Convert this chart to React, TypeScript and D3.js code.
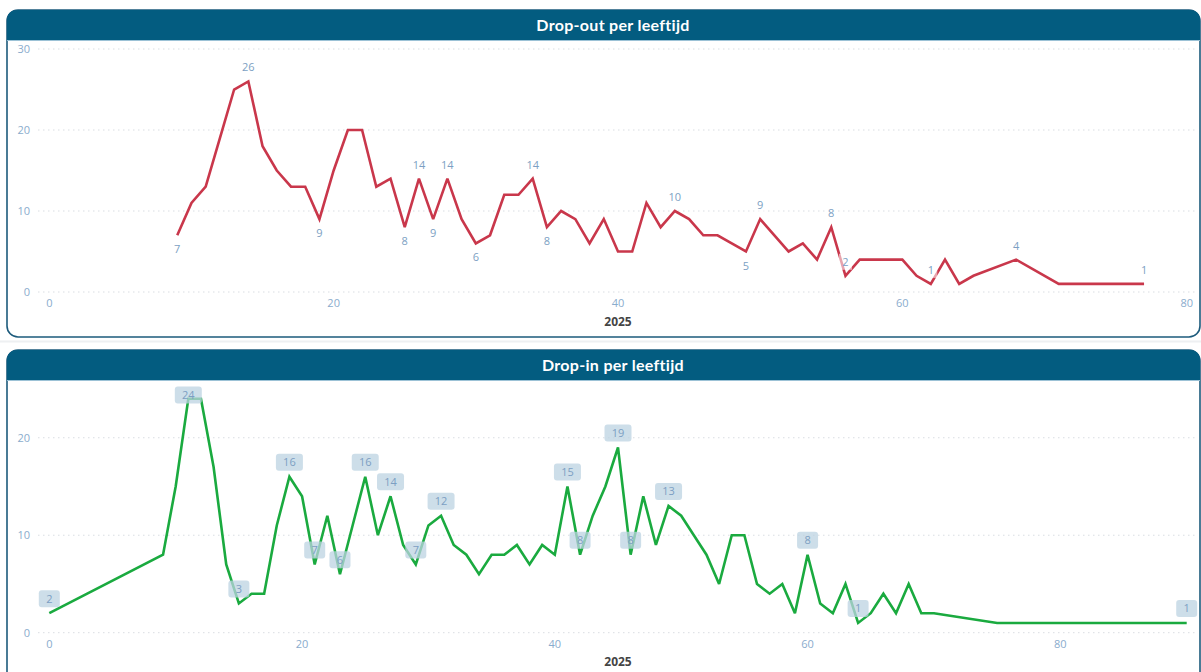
import React from "react";
import * as d3 from "d3";

// ---------- DATA ----------
const dropOutAges = [9,10,11,12,13,14,15,16,17,18,19,20,21,22,23,24,25,26,27,28,29,30,31,32,33,34,35,36,37,38,39,40,41,42,43,44,45,46,47,48,49,50,51,52,53,54,55,56,57,58,59,60,61,62,63,64,65,68,71,77];
const dropOutValues = [7,11,13,19,25,26,18,15,13,13,9,15,20,20,13,14,8,14,9,14,9,6,7,12,12,14,8,10,9,6,9,5,5,11,8,10,9,7,7,6,5,9,7,5,6,4,8,2,4,4,4,4,2,1,4,1,2,4,1,1];
// labelled ages and whether label is above (1) or below (-1)
const dropOutLabelAges = [9,14,19,25,26,27,28,30,34,35,44,49,50,55,56,62,68,77];
const dropOutLabelSide = [-1,1,-1,-1,1,-1,1,-1,1,-1,1,-1,1,1,1,1,1,1];

const dropInAges = [0,9,10,11,12,13,14,15,16,17,18,19,20,21,22,23,24,25,26,27,28,29,30,31,32,33,34,35,36,37,38,39,40,41,42,43,44,45,46,47,48,49,50,51,52,53,54,55,56,57,58,59,60,61,62,63,64,65,66,67,68,69,70,75,90];
const dropInValues = [2,8,15,24,24,17,7,3,4,4,11,16,14,7,12,6,11,16,10,14,9,7,11,12,9,8,6,8,8,9,7,9,8,15,8,12,15,19,8,14,9,13,12,10,8,5,10,10,5,4,5,2,8,3,2,5,1,2,4,2,5,2,2,1,1];
const dropInLabelAges = [0,11,15,19,21,23,25,27,29,31,41,42,45,46,49,60,64,90];

const topYTicks = [0, 10, 20, 30];
const topXTicks = [0, 20, 40, 60, 80];
const botYTicks = [0, 10, 20];
const botXTicks = [0, 20, 40, 60, 80];

const topTitle = "Drop-out per leeftijd";
const botTitle = "Drop-in per leeftijd";
const axisTitle = "2025";

// ---------- STYLE ----------
const HEADER = "#035c80";
const BORDER = "#1d5b7c";
const TICK = "#8aaccd";
const LABEL = "#7c9fc3";
const RED = "#c9374b";
const GREEN = "#1aaa3f";
const FONT = "'Segoe UI', 'Open Sans', 'Noto Sans', sans-serif";
const TITLE_FONT = "Lato, 'Open Sans', sans-serif";

function Panel({ y0, h, title }: { y0: number; h: number; title: string }) {
  const x0 = 7, x1 = 1200, r = 11;
  const path = `M${x0},${y0 + h} L${x0},${y0 + r} Q${x0},${y0} ${x0 + r},${y0} L${x1 - r},${y0} Q${x1},${y0} ${x1},${y0 + r} L${x1},${y0 + h}`;
  return (
    <g>
      <rect x={x0} y={y0} width={x1 - x0} height={h} rx={r} ry={r} fill="#fff" stroke={BORDER} strokeWidth={1.6} />
      <path d={`M${x0},${y0 + 30} L${x0},${y0 + r} Q${x0},${y0} ${x0 + r},${y0} L${x1 - r},${y0} Q${x1},${y0} ${x1},${y0 + r} L${x1},${y0 + 30} Z`} fill={HEADER} />
      <line x1={x0} x2={x1} y1={y0 + 30.5} y2={y0 + 30.5} stroke="#9cc2d6" strokeWidth={1} />
      <text x={613} y={y0 + 21} textAnchor="middle" fill="#fff" fontFamily={TITLE_FONT} fontWeight={700} fontSize={16} letterSpacing={0.3}>{title}</text>
      <path d={path} fill="none" stroke={HEADER} strokeWidth={1} opacity={0} />
    </g>
  );
}

export default function App() {
  // top chart scales
  const xT = d3.scaleLinear().domain([0, 80]).range([49.3, 1186.7]);
  const yT = d3.scaleLinear().domain([0, 30]).range([292, 49]);
  // bottom chart scales
  const xB = d3.scaleLinear().domain([0, 90]).range([49.3, 1186.7]);
  const yB = d3.scaleLinear().domain([0, 25]).range([632.7, 389]);

  const topPts: [number, number][] = dropOutAges.map((a, i) => [a, dropOutValues[i]]);
  const botPts: [number, number][] = dropInAges.map((a, i) => [a, dropInValues[i]]);

  const lineT = d3.line<[number, number]>().x(d => xT(d[0])).y(d => yT(d[1]));
  const lineB = d3.line<[number, number]>().x(d => xB(d[0])).y(d => yB(d[1]));

  const gridX0 = 38, gridX1 = 1196;

  return (
    <svg width={1201} height={672} style={{ position: "absolute", left: 0, top: 0, background: "#fff" }}>
      <line x1={0} x2={1201} y1={341.5} y2={341.5} stroke="#eef0f2" strokeWidth={2} />
      <Panel y0={10} h={327} title={topTitle} />
      <Panel y0={350} h={340} title={botTitle} />

      {/* ---- top chart ---- */}
      <g>
        {topYTicks.map(t => (
          <g key={"tg" + t}>
            <line x1={gridX0} x2={gridX1} y1={yT(t)} y2={yT(t)} stroke="#d9dde2" strokeWidth={1} strokeDasharray="1.5,3.5" />
            <text x={30} y={yT(t) + 4} textAnchor="end" fill={TICK} fontFamily={FONT} fontSize={11}>{t}</text>
          </g>
        ))}
        {topXTicks.map(t => (
          <text key={"tx" + t} x={xT(t)} y={307} textAnchor="middle" fill={TICK} fontFamily={FONT} fontSize={11}>{t}</text>
        ))}
        <text x={618} y={326} textAnchor="middle" fill="#444" fontFamily={FONT} fontWeight={700} fontSize={12}>{axisTitle}</text>
        <path d={lineT(topPts) || ""} fill="none" stroke={RED} strokeWidth={2.6} strokeLinejoin="miter" strokeMiterlimit={3} />
        {dropOutLabelAges.map((a, i) => {
          const v = dropOutValues[dropOutAges.indexOf(a)];
          const cx = xT(a);
          const cy = yT(v) - dropOutLabelSide[i] * 14;
          const w = String(v).length * 7 + 6;
          return (
            <g key={"tl" + a}>
              <rect x={cx - w / 2} y={cy - 8} width={w} height={16} fill="#fff" opacity={0.55} />
              <text x={cx} y={cy + 4} textAnchor="middle" fill={LABEL} fontFamily={FONT} fontSize={11}>{v}</text>
            </g>
          );
        })}
      </g>

      {/* ---- bottom chart ---- */}
      <g>
        {botYTicks.map(t => (
          <g key={"bg" + t}>
            <line x1={gridX0} x2={gridX1} y1={yB(t)} y2={yB(t)} stroke="#d9dde2" strokeWidth={1} strokeDasharray="1.5,3.5" />
            <text x={30} y={yB(t) + 4} textAnchor="end" fill={TICK} fontFamily={FONT} fontSize={11}>{t}</text>
          </g>
        ))}
        {botXTicks.map(t => (
          <text key={"bx" + t} x={xB(t)} y={648} textAnchor="middle" fill={TICK} fontFamily={FONT} fontSize={11}>{t}</text>
        ))}
        <text x={618} y={666} textAnchor="middle" fill="#444" fontFamily={FONT} fontWeight={700} fontSize={12}>{axisTitle}</text>
        <path d={lineB(botPts) || ""} fill="none" stroke={GREEN} strokeWidth={2.6} strokeLinejoin="miter" strokeMiterlimit={3} />
        {dropInLabelAges.map(a => {
          const v = dropInValues[dropInAges.indexOf(a)];
          const cx = xB(a);
          const cy = Math.max(yB(v) - 14.5, 395);
          const w = String(v).length === 1 ? 21 : 27;
          return (
            <g key={"bl" + a}>
              <rect x={cx - w / 2} y={cy - 8.5} width={w} height={17} rx={3} ry={3} fill="#bcd3e1" opacity={0.75} />
              <text x={cx} y={cy + 4} textAnchor="middle" fill={LABEL} fontFamily={FONT} fontSize={11}>{v}</text>
            </g>
          );
        })}
      </g>
    </svg>
  );
}
